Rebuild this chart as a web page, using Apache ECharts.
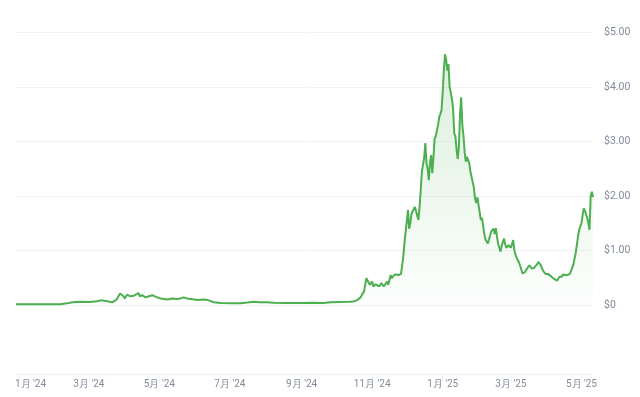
<!DOCTYPE html>
<html>
<head>
<meta charset="utf-8">
<script src="https://cdn.jsdelivr.net/npm/echarts@6/dist/echarts.min.js"></script>
<style>
  html, body { margin: 0; padding: 0; background: #fff; }
  #chart { width: 640px; height: 397px; }
</style>
</head>
<body>
<div id="chart"></div>
<script>
  // 早期（稀疏读取）
  const sparseDates = [
    '2023-12-29', '2024-01-19', '2024-02-05', '2024-02-11', '2024-02-16', '2024-02-22',
    '2024-03-02', '2024-03-08', '2024-03-11', '2024-03-16', '2024-03-21', '2024-03-25',
    '2024-03-28', '2024-03-31', '2024-04-01', '2024-04-03', '2024-04-06', '2024-04-09',
    '2024-04-13', '2024-04-14', '2024-04-16', '2024-04-19', '2024-04-22', '2024-04-25',
    '2024-04-28', '2024-05-02', '2024-05-05', '2024-05-08', '2024-05-12', '2024-05-16',
    '2024-05-19', '2024-05-22', '2024-05-25', '2024-05-28', '2024-05-31', '2024-06-03',
    '2024-06-08', '2024-06-12', '2024-06-17', '2024-06-23', '2024-07-04', '2024-07-10',
    '2024-07-16', '2024-07-21', '2024-07-27', '2024-08-02', '2024-08-08', '2024-08-18',
    '2024-08-31', '2024-09-11', '2024-09-20', '2024-09-26', '2024-10-04', '2024-10-13',
    '2024-10-17', '2024-10-19', '2024-10-22', '2024-10-23', '2024-10-25', '2024-10-27',
    '2024-10-30', '2024-11-01', '2024-11-02', '2024-11-04', '2024-11-05', '2024-11-07',
    '2024-11-09', '2024-11-11', '2024-11-14', '2024-11-15', '2024-11-17', '2024-11-18',
    '2024-11-20', '2024-11-22', '2024-11-24'
  ]
  const sparsePrices = [
    0.013, 0.012, 0.015, 0.03, 0.05, 0.06,
    0.055, 0.07, 0.085, 0.075, 0.05, 0.1,
    0.21, 0.16, 0.12, 0.19, 0.16, 0.17,
    0.22, 0.16, 0.18, 0.14, 0.16, 0.18,
    0.15, 0.12, 0.11, 0.10, 0.12, 0.11,
    0.12, 0.14, 0.12, 0.11, 0.10, 0.09,
    0.10, 0.09, 0.05, 0.035, 0.03, 0.03,
    0.045, 0.06, 0.05, 0.05, 0.04, 0.035,
    0.035, 0.04, 0.035, 0.05, 0.055, 0.06,
    0.07, 0.09, 0.14, 0.15, 0.25, 0.49,
    0.37, 0.43, 0.34, 0.38, 0.4, 0.34,
    0.4, 0.34, 0.43, 0.37, 0.55, 0.49,
    0.55, 0.56, 0.55
  ]

  // 2024-11-26 起每日
  const dailyStart = '2024-11-26'
  const dailyPrices = [
    0.57, 0.6, 0.9, 1.15, 1.35, 1.55, 1.74, 1.4, 1.5, 1.67,
    1.72, 1.75, 1.8, 1.72, 1.64, 1.56, 1.8, 2.1, 2.45, 2.48,
    2.7, 2.97, 2.6, 2.5, 2.29, 2.6, 2.75, 2.42, 2.7, 3.05,
    3.1, 3.12, 3.3, 3.45, 3.5, 3.58, 3.9, 4.3, 4.6, 4.5,
    4.3, 4.42, 4.0, 3.9, 3.78, 3.6, 3.15, 3.1, 2.85, 2.68,
    2.9, 3.5, 3.81, 3.3, 3.1, 2.8, 2.63, 2.72, 2.75, 2.6,
    2.45, 2.42, 2.25, 2.15, 1.95, 1.87, 1.98, 1.95, 1.7, 1.56,
    1.6, 1.45, 1.3, 1.2, 1.2, 1.13, 1.2, 1.28, 1.35, 1.38,
    1.4, 1.3, 1.41, 1.25, 1.12, 1.05, 0.98, 1.08, 1.15, 1.22,
    1.12, 1.05, 1.02, 1.1, 1.08, 1.05, 1.08, 1.19, 1.0, 0.92,
    0.89, 0.82, 0.78, 0.72, 0.65, 0.58, 0.57, 0.6, 0.59, 0.67,
    0.7, 0.73, 0.72, 0.67, 0.69, 0.68, 0.7, 0.73, 0.76, 0.79,
    0.76, 0.72, 0.67, 0.62, 0.6, 0.57, 0.56, 0.57, 0.55, 0.54,
    0.51, 0.5, 0.49, 0.47, 0.45, 0.45, 0.46, 0.52, 0.55, 0.52,
    0.56, 0.58, 0.55, 0.56, 0.55, 0.56, 0.57, 0.58, 0.68, 0.74,
    0.85, 0.95, 1.1, 1.25, 1.38, 1.4, 1.5, 1.65, 1.77, 1.73,
    1.7, 1.6, 1.5, 1.38, 2.0, 2.08, 1.98
  ]

  const tickDates = [
    '2024-01-01', '2024-03-01', '2024-05-01', '2024-07-01', '2024-09-01',
    '2024-11-01', '2025-01-01', '2025-03-01', '2025-05-01'
  ]
  const axisStart = '2023-12-29'
  const axisEnd = '2025-05-11'

  function ts(s, addDays) {
    var p = s.split('-')
    return +new Date(+p[0], +p[1] - 1, +p[2] + (addDays || 0))
  }

  var data = sparseDates.map(function (d, i) {
    return [ts(d), sparsePrices[i]]
  })
  dailyPrices.forEach(function (v, i) {
    data.push([ts(dailyStart, i), v])
  })
  var ticks = tickDates.map(function (d) { return ts(d) })

  var labelColor = '#838b9b'
  var lineGray = '#eff0f3'

  var chart = echarts.init(document.getElementById('chart'))
  chart.setOption({
    animation: false,
    grid: { left: 16, right: 47, top: 32.5, bottom: 92 },
    xAxis: {
      type: 'value',
      min: ts(axisStart),
      max: ts(axisEnd),
      offset: 69.5,
      axisLine: { show: true, onZero: false, lineStyle: { color: lineGray, width: 1 } },
      axisTick: {
        show: true,
        length: 8,
        customValues: ticks,
        lineStyle: { color: lineGray }
      },
      splitLine: { show: false },
      axisLabel: {
        customValues: ticks,
        margin: 4.5,
        color: labelColor,
        fontSize: 10,
        fontFamily: 'Roboto',
        formatter: function (value) {
          var d = new Date(value)
          var text = (d.getMonth() + 1) + "月 '" + String(d.getFullYear() % 100)
          return value === ticks[0] ? '{first|' + text + '}' : text
        },
        rich: {
          first: {
            padding: [0, 0, 0, 22],
            color: labelColor,
            fontSize: 10,
            fontFamily: 'Roboto'
          }
        }
      }
    },
    yAxis: {
      type: 'value',
      position: 'right',
      min: 0,
      max: 5,
      interval: 1,
      axisLine: { show: false },
      axisTick: { show: false },
      splitLine: { lineStyle: { color: '#f1f2f4' } },
      axisLabel: {
        margin: 11,
        color: labelColor,
        fontSize: 10.5,
        fontFamily: 'Roboto',
        padding: [0, 0, 7, 0],
        formatter: function (v) {
          return v === 0 ? '$0' : '$' + v.toFixed(2)
        }
      }
    },
    series: [
      {
        type: 'line',
        data: data,
        showSymbol: false,
        symbol: 'none',
        lineStyle: { color: '#4caf50', width: 2 },
        areaStyle: {
          color: new echarts.graphic.LinearGradient(0, 0, 0, 1, [
            { offset: 0, color: 'rgba(76, 175, 80, 0.28)' },
            { offset: 1, color: 'rgba(76, 175, 80, 0.02)' }
          ])
        }
      }
    ]
  })
</script>
</body>
</html>
